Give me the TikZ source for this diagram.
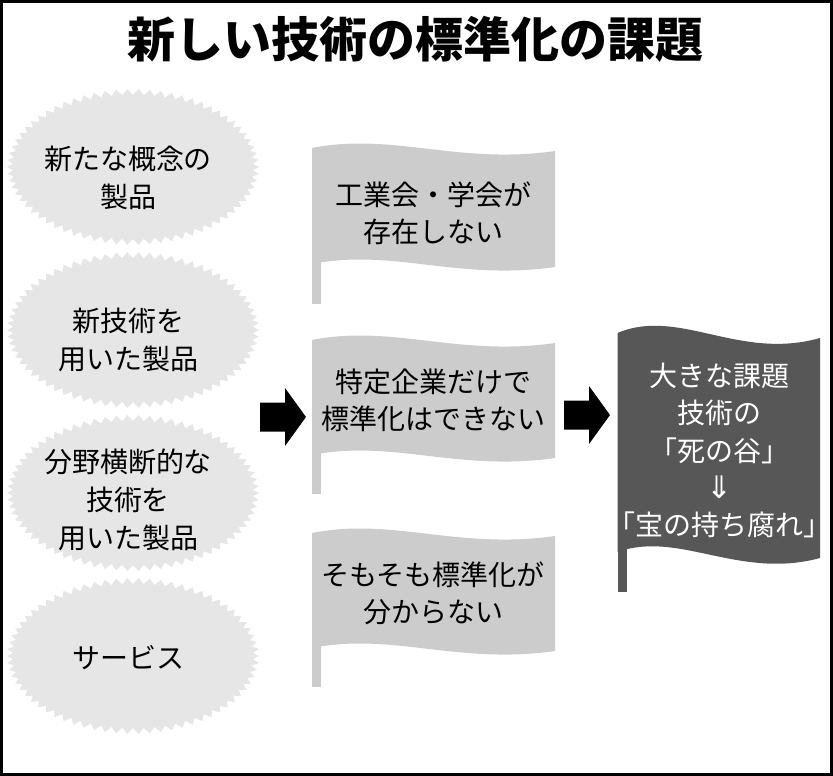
\documentclass[tikz,border=0pt]{standalone}
\usepackage{fontspec}
\setmainfont{Noto Sans CJK JP}
\newfontfamily\arrowfont{DejaVu Sans}
\definecolor{burstfill}{HTML}{E6E6E6}
\definecolor{flagfill}{HTML}{CCCCCC}
\definecolor{darkfill}{HTML}{575757}
\tikzset{
  burst/.style={fill=burstfill},
  flagshape/.style={fill=flagfill},
  darkflag/.style={fill=darkfill},
  blockarrow/.style={fill=black},
  burstlbl/.style={font=\fontsize{28}{38}\selectfont, align=center, inner sep=0pt, text=black},
  flaglbl/.style={font=\fontsize{28}{37}\selectfont, align=center, inner sep=0pt, text=black},
  darklbl/.style={font=\fontsize{28}{37.25}\selectfont, align=center, inner sep=0pt, text=white},
  titlelbl/.style={font=\bfseries\fontsize{48}{56}\selectfont, inner sep=0pt},
  frameline/.style={draw=black, line width=3pt},
}
\newcommand\burstat[2]{\fill[burst] plot[domain=0:140, samples=141, variable=\q]
  ({#1+(123+3*(1-2*mod(round(\q),2)))*cos(2.5714286*\q)},
   {#2+(75+3*(1-2*mod(round(\q),2)))*sin(2.5714286*\q)}) -- cycle;}
\newcommand\gflag[3]{%
  \fill[flagshape] (312,#1) .. controls (392,#1-16) and (458,#1+17) .. (555,#1+3)
     -- (555,#2+3) .. controls (458,#2+17) and (392,#2-16) .. (312,#2) -- cycle;
  \fill[flagshape] (312,#2-3) rectangle (320.5,#3);}
\newcommand\blockarrowat[2]{\fill[blockarrow] (#1,#2) ++(0,-14.5) -- ++(25,0) -- ++(0,-14.5)
  -- ++(21,29) -- ++(-21,29) -- ++(0,-14.5) -- ++(-25,0) -- cycle;}
\begin{document}
\begin{tikzpicture}[x=1pt,y=-1pt]
\useasboundingbox (0,0) rectangle (833,776);
\fill[white] (0,0) rectangle (833,776);

% title
\node[titlelbl] (title) at (415,39) {新しい技術の標準化の課題};

% starbursts
\burstat{133}{167}
\burstat{133}{330}
\burstat{133}{493}
\burstat{133}{656}
\node[burstlbl] (e1) at (128,178) {新たな概念の\\製品};
\node[burstlbl] (e2) at (128,340) {新技術を\\用いた製品};
\node[burstlbl] (e3) at (128,500) {分野横断的な\\技術を\\用いた製品};
\node[burstlbl] (e4) at (128,658) {サービス};

% arrows
\blockarrowat{260}{417}
\blockarrowat{564}{415}

% gray flags
\gflag{148}{264}{304}
\gflag{340}{455}{494}
\gflag{533}{648}{687}
\node[flaglbl] (f1) at (433,213.5) {工業会・学会が\\存在しない};
\node[flaglbl] (f2) at (433,400) {特定企業だけで\\標準化はできない};
\node[flaglbl] (f3) at (433,593) {そもそも標準化が\\分からない};

% dark flag
\fill[darkflag] (617.5,333) .. controls (678.5,307) and (739,361) .. (820,338)
   -- (820,558) .. controls (739,580) and (678.5,530) .. (617.5,552) -- cycle;
\fill[darkflag] (617.5,548) rectangle (627,592);
\node[darklbl] (d) at (719,450.5) {大きな課題\\技術の\\「死の谷」\\{\arrowfont\fontsize{31}{37.25}\selectfont ⇓}\\「宝の持ち腐れ」};

% frame
\draw[frameline] (1.5,1.5) rectangle (831.5,774.5);
\end{tikzpicture}
\end{document}
